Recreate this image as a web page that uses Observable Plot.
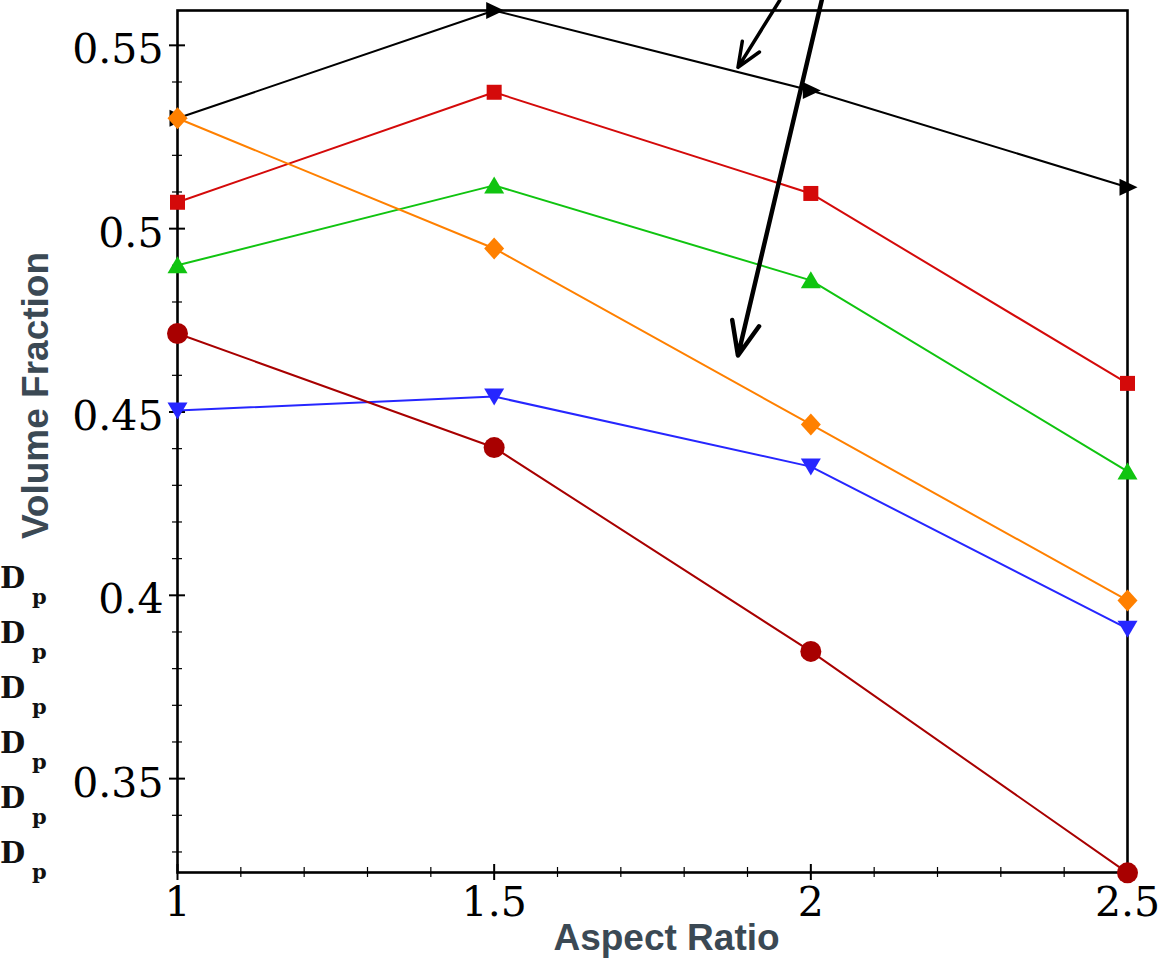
<!DOCTYPE html>
<html>
<head>
<meta charset="utf-8">
<script src="https://cdn.jsdelivr.net/npm/d3@7"></script>
<script src="https://cdn.jsdelivr.net/npm/@observablehq/plot@0.6"></script>
<style>
  html, body { margin: 0; padding: 0; background: #fff; }
  #chart { position: relative; width: 1170px; height: 960px; overflow: hidden; }
  #chart svg { position: absolute; left: 0; top: 0; }
  .dp { position: absolute; font-family: "DejaVu Serif", serif; font-weight: bold; color: #111; }
  .dp .D { position: absolute; left: 0; top: 0; font-size: 29px; line-height: 1; }
  .dp .p { position: absolute; left: 32px; top: 22px; font-size: 21px; line-height: 1; }
</style>
</head>
<body>
<div id="chart"></div>
<script>
// ---------- data ----------
const aspectRatio = [1, 1.5, 2, 2.5];
const seriesBlack   = [0.5301, 0.5595, 0.5377, 0.5113];
const seriesRed     = [0.5072, 0.5372, 0.5096, 0.4578];
const seriesGreen   = [0.4900, 0.5118, 0.4859, 0.4338];
const seriesOrange  = [0.5301, 0.4946, 0.4466, 0.3986];
const seriesBlue    = [0.4504, 0.4542, 0.4351, 0.3909];
const seriesDarkRed = [0.4714, 0.4403, 0.3847, 0.3243];

const xMajor = [1, 1.5, 2, 2.5];
const xMajorLabels = ["1", "1.5", "2", "2.5"];
const xMinor = [1.1, 1.2, 1.3, 1.4, 1.6, 1.7, 1.8, 1.9, 2.1, 2.2, 2.3, 2.4];
const yMajor = [0.35, 0.4, 0.45, 0.5, 0.55];
const yMajorLabels = ["0.35", "0.4", "0.45", "0.5", "0.55"];
const yMinor = [0.33, 0.34, 0.36, 0.37, 0.38, 0.39, 0.41, 0.42, 0.43, 0.44,
                0.46, 0.47, 0.48, 0.49, 0.51, 0.52, 0.53, 0.54];

// annotation arrows (data coordinates), starting above the frame
const arrowStartX = [1.951, 2.019];
const arrowStartY = [0.5623, 0.5636];
const arrowEndX   = [1.885, 1.885];
const arrowEndY   = [0.5440, 0.4654];

const legendRows = ["D", "D", "D", "D", "D", "D"];

// ---------- symbols ----------
function sym(drawFn) { return { draw(ctx, size) { drawFn(ctx); } }; }
const symSquare = sym(c => { const h = 7.5; c.moveTo(-h, -h); c.lineTo(h, -h); c.lineTo(h, h); c.lineTo(-h, h); c.closePath(); });
const symCircle = sym(c => { const r = 10.5; c.moveTo(r, 0); c.arc(0, 0, r, 0, 2 * Math.PI); c.closePath(); });
const symTriUp = sym(c => { c.moveTo(0, -9); c.lineTo(10, 8); c.lineTo(-10, 8); c.closePath(); });
const symTriDown = sym(c => { c.moveTo(-10, -8); c.lineTo(10, -8); c.lineTo(0, 9); c.closePath(); });
const symTriRight = sym(c => { c.moveTo(-8, -8.5); c.lineTo(10, 0); c.lineTo(-8, 8.5); c.closePath(); });
const symDiamond = sym(c => { c.moveTo(0, -11); c.lineTo(10, 0); c.lineTo(0, 11); c.lineTo(-10, 0); c.closePath(); });

const seriesDefs = [
  { values: seriesBlack,   color: "#000000", symbol: symTriRight },
  { values: seriesRed,     color: "#d40a0a", symbol: symSquare },
  { values: seriesGreen,   color: "#10c410", symbol: symTriUp },
  { values: seriesOrange,  color: "#ff8000", symbol: symDiamond },
  { values: seriesBlue,    color: "#2626ff", symbol: symTriDown },
  { values: seriesDarkRed, color: "#a80000", symbol: symCircle }
];

const W = 1170, H = 960, mL = 177, mR = 43, mT = 10, mB = 88;
const fw = W - mL - mR, fh = H - mT - mB;

const arrows = arrowStartX.map((x, i) => ({ x1: x, y1: arrowStartY[i], x2: arrowEndX[i], y2: arrowEndY[i], w: i === 0 ? 3.5 : 4.5 }));

const marks = [];
marks.push(Plot.frame({ stroke: "#000", strokeWidth: 2.6 }));
// ticks crossing the axes
marks.push(Plot.tickY(yMajor, { y: d => d, insetLeft: -8, insetRight: fw - 8, stroke: "#000", strokeWidth: 2 }));
marks.push(Plot.tickY(yMinor, { y: d => d, insetLeft: -5, insetRight: fw - 5, stroke: "#000", strokeWidth: 1.2 }));
marks.push(Plot.tickX(xMajor, { x: d => d, insetTop: fh - 8, insetBottom: -8, stroke: "#000", strokeWidth: 2 }));
marks.push(Plot.tickX(xMinor, { x: d => d, insetTop: fh - 5, insetBottom: -5, stroke: "#000", strokeWidth: 1.2 }));
// tick labels
marks.push(Plot.text(yMajor, { y: d => d, frameAnchor: "left", dx: -14, dy: 5, textAnchor: "end", text: (d, i) => yMajorLabels[i], fontSize: 41, fontFamily: "DejaVu Serif", fill: "#000" }));
marks.push(Plot.text(xMajor, { x: d => d, frameAnchor: "bottom", dy: 14, lineAnchor: "top", text: (d, i) => xMajorLabels[i], fontSize: 41, fontFamily: "DejaVu Serif", fill: "#000" }));
// axis titles
marks.push(Plot.text(["Volume Fraction"], { frameAnchor: "left", dx: -141, dy: -46, rotate: -90, textAnchor: "middle", text: d => d, fontSize: 37, fontWeight: "bold", fontFamily: "Liberation Sans, Arial, sans-serif", fill: "#3b4954" }));
marks.push(Plot.text(["Aspect Ratio"], { frameAnchor: "bottom", dx: 14, dy: 77, textAnchor: "middle", text: d => d, fontSize: 37, fontWeight: "bold", fontFamily: "Liberation Sans, Arial, sans-serif", fill: "#3b4954" }));
// series lines
seriesDefs.forEach(s => {
  marks.push(Plot.line(aspectRatio, { x: d => d, y: (d, i) => s.values[i], stroke: s.color, strokeWidth: 2 }));
});
// series markers
seriesDefs.forEach(s => {
  marks.push(Plot.dot(aspectRatio, { x: d => d, y: (d, i) => s.values[i], fill: s.color, stroke: "none", symbol: s.symbol, r: 10 }));
});
// annotation arrows
arrows.forEach(a => {
  marks.push(Plot.arrow([a], { x1: "x1", y1: "y1", x2: "x2", y2: "y2", stroke: "#000", strokeWidth: a.w, headLength: 12, headAngle: 45 }));
});

const chart = Plot.plot({
  width: W, height: H,
  marginLeft: mL, marginRight: mR, marginTop: mT, marginBottom: mB,
  x: { domain: [1, 2.5], axis: null },
  y: { domain: [0.3244, 0.5595], axis: null },
  style: { background: "#fff", overflow: "visible" },
  marks
});
const root = document.getElementById("chart");
root.appendChild(chart);

// legend fragments on the left edge
const rowLeft = [0, 0, 0, 0, 0, 0];
legendRows.forEach((t, i) => {
  const div = document.createElement("div");
  div.className = "dp";
  div.style.left = rowLeft[i] + "px";
  div.style.top = (564 + i * 55) + "px";
  div.innerHTML = `<span class="D">${t}</span><span class="p">p</span>`;
  root.appendChild(div);
});
</script>
</body>
</html>
